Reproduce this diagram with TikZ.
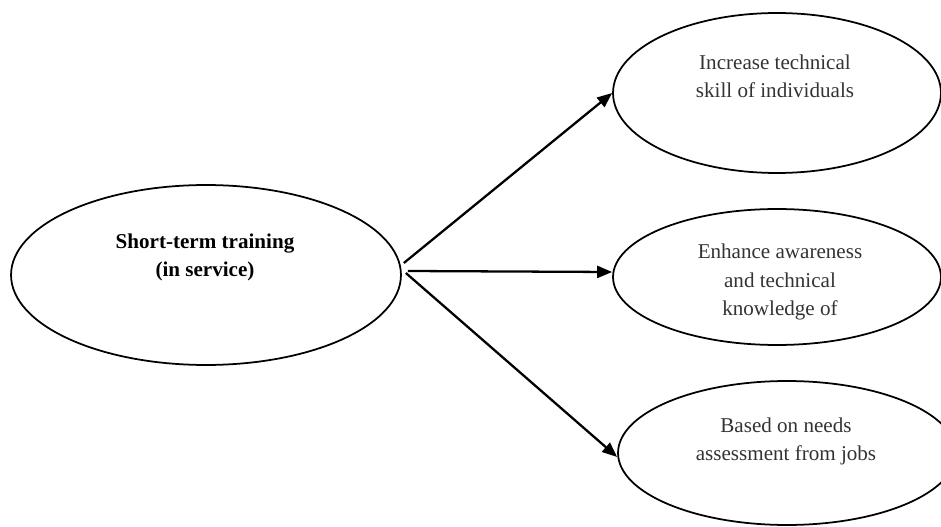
\documentclass[tikz,border=0pt]{standalone}
\usepackage{fontspec}
\setmainfont{Liberation Serif}
\usetikzlibrary{shapes.geometric, arrows.meta, positioning}
\tikzset{
        x=0.02cm, y=-0.02cm, % one unit is one pixel of the sketch
        goal/.style={draw, line width=1pt, ellipse, inner sep=0pt}, % the ovals
        txt/.style={align=center, font=\fontsize{12}{16}\selectfont, text=black!80},
        link/.style={-{Triangle[length=3mm,width=2.4mm]}, line width=1.3pt},
        }

\begin{document}
\begin{tikzpicture}
        % frame of the page
        \clip (0,0) rectangle (941,527);
        \node[goal, minimum width=7.8cm, minimum height=3.6cm] (train) at (206,275) {};
        \node[goal, minimum width=6.56cm, minimum height=3.2cm] (skill) at (777,93) {};
        \node[goal, minimum width=6.56cm, minimum height=2.72cm] (aware) at (777,277) {};
        \node[goal, minimum width=6.76cm, minimum height=2.88cm] (needs) at (787,453) {};

        % texts
        \node[txt, text=black, font=\fontsize{12}{16}\selectfont\bfseries] (trainlbl) at (205,257) {Short-term training\\(in service)};
        \node[txt] (skilllbl) at (775,76) {Increase technical\\skill of individuals};
        \node[txt] (awarelbl) at (780,282) {Enhance awareness\\and technical\\knowledge of};
        \node[txt] (needslbl) at (786,441) {Based on needs\\assessment from jobs};

        \draw[link] ([shift={(2,-12)}]train.east) -- (skill.west);
        \draw[link] ([shift={(6,-4)}]train.east) -- ([yshift=0.1cm]aware.west);
        \draw[link] ([shift={(4,-2)}]train.east) -- ([yshift=-0.08cm]needs.west);
\end{tikzpicture}
\end{document}
